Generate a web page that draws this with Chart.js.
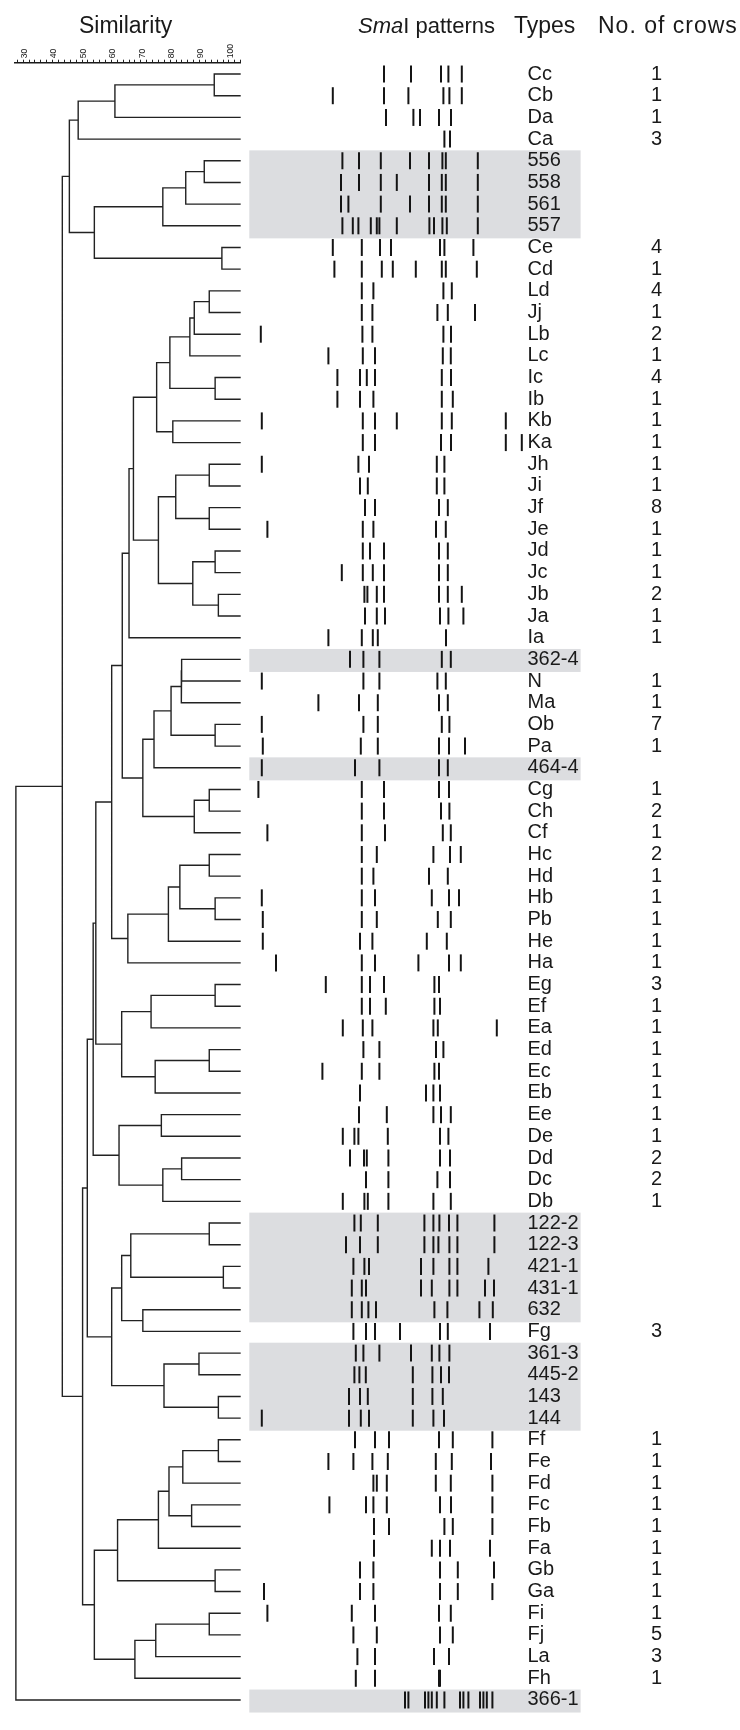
<!DOCTYPE html>
<html><head><meta charset="utf-8">
<script src="https://cdn.jsdelivr.net/npm/chart.js@4.4.1/dist/chart.umd.min.js"></script>
<style>
body{margin:0;background:#fff;}
#wrap{position:relative;width:740px;height:1730px;overflow:hidden;font-family:"Liberation Sans",Arial,Helvetica,sans-serif;color:#1a1a1a;background:#fff;}
canvas{position:absolute;top:0;}
.h{position:absolute;top:14px;font-size:23px;line-height:23px;white-space:nowrap;}
</style></head>
<body><div id="wrap">
<canvas id="dendro" width="250" height="1730" style="left:0"></canvas>
<canvas id="gel" width="495" height="1730" style="left:245px"></canvas>
<div class="h" style="left:79px">Similarity</div>
<div class="h" style="left:358px;font-size:22px"><i>Sma</i>I patterns</div>
<div class="h" style="left:514px">Types</div>
<div class="h" style="left:598px;letter-spacing:1px">No. of crows</div>
</div>
<script>
// ---------- DATA ----------
const types = ['Cc','Cb','Da','Ca','556','558','561','557','Ce','Cd','Ld','Jj','Lb','Lc','Ic','Ib','Kb','Ka','Jh','Ji','Jf','Je','Jd','Jc','Jb','Ja','Ia','362-4','N','Ma','Ob','Pa','464-4','Cg','Ch','Cf','Hc','Hd','Hb','Pb','He','Ha','Eg','Ef','Ea','Ed','Ec','Eb','Ee','De','Dd','Dc','Db','122-2','122-3','421-1','431-1','632','Fg','361-3','445-2','143','144','Ff','Fe','Fd','Fc','Fb','Fa','Gb','Ga','Fi','Fj','La','Fh','366-1'];

const crows = [1,1,1,3,null,null,null,null,4,1,
  4,1,2,1,4,1,1,1,
  1,1,8,1,1,1,2,1,1,
  null,1,1,7,1,null,
  1,2,1,2,1,1,1,1,1,
  3,1,1,1,1,1,1,1,2,2,1,
  null,null,null,null,null,3,null,null,null,null,
  1,1,1,1,1,1,1,1,1,5,3,1,null];

// Similarity axis tick labels
const simLabels = [30,40,50,60,70,80,90,100];
const simMinorStep = 2;

// UPGMA merges: [child A, child B, similarity %]; '#k' = result of merge k
const merges = [
  ['Cc','Cb',91.0], ['#0','Da',57.2], ['#1','Ca',44.7],
  ['556','558',87.6], ['#3','561',81.3], ['#4','557',73.5],
  ['Ce','Cd',93.6], ['#5','#6',50.2], ['#2','#7',41.7],
  ['Ld','Jj',89.3], ['#9','Lb',84.2], ['#10','Lc',82.7],
  ['Ic','Ib',91.3], ['#11','#12',75.9], ['Kb','Ka',76.9],
  ['#13','#14',71.4], ['Jh','Ji',89.3], ['Jf','Je',89.3],
  ['#16','#17',77.9], ['Jd','Jc',91.3], ['Jb','Ja',92.4],
  ['#19','#20',83.7], ['#18','#21',72.0], ['#15','#22',63.5],
  ['#23','Ia',62.0], ['362-4','N',79.9], ['#25','Ma',79.8],
  ['Ob','Pa',91.3], ['#26','#27',76.3], ['#28','464-4',70.5],
  ['Cg','Ch',89.3], ['#30','Cf',84.2], ['#29','#31',66.7],
  ['#24','#32',59.7], ['Hc','Hd',89.3], ['Hb','Pb',91.3],
  ['#34','#35',79.3], ['#36','He',75.4], ['#37','Ha',61.6],
  ['#33','#38',56.1], ['Eg','Ef',91.3], ['#40','Ea',69.5],
  ['Ed','Ec',89.3], ['#42','Eb',70.9], ['#41','#43',59.5],
  ['#39','#44',50.7], ['Ee','De',73.0], ['Dd','Dc',79.9],
  ['#47','Db',73.5], ['#46','#48',58.6], ['#45','#49',49.8],
  ['122-2','122-3',89.3], ['421-1','431-1',94.1], ['#51','#52',62.6],
  ['632','Fg',66.7], ['#53','#54',59.5], ['361-3','445-2',85.8],
  ['143','144',92.4], ['#56','#57',73.9], ['#55','#58',56.1],
  ['#50','#59',47.8], ['Ff','Fe',92.4], ['#61','Fd',80.3],
  ['Fc','Fb',83.3], ['#62','#63',75.6], ['#64','Fa',72.0],
  ['Gb','Ga',91.3], ['#65','#66',58.1], ['Fi','Fj',89.3],
  ['#68','La',71.1], ['#69','Fh',64.0], ['#67','#70',50.2],
  ['#60','#71',46.2], ['#8','#72',39.3], ['#73','366-1',23.5]
];

// SmaI band positions (relative migration units along lane), one list per type
const bands = [
  [67,80.5,95.5,99.2,105.9],
  [41.4,67,79.2,96.7,99.7,105.9],
  [68,81.7,85,94.5,100.5],
  [97.2,100],
  [46.2,54.5,65.4,80,89.5,96.2,97.9,113.9],
  [45.5,54.5,65.4,73.4,89.5,95.9,97.9,113.9],
  [45.5,49.2,65.4,80,89.5,95.9,97.9,113.9],
  [46.2,51.4,54.2,60.4,63.4,64.7,73.4,89.7,92,96.2,98.4,113.9],
  [41.4,55.9,65,70.5,95,97.2,111.7],
  [42.2,55.9,65.9,71.4,82.9,95.9,97.9,113.4],
  [55.9,61.7,96.7,100.9],
  [55.9,61.2,93.7,98.9,112.5],
  [5.4,56.2,61.2,96.7,100.5],
  [39.2,56.4,62.5,96.4,100.4],
  [43.7,55,58.4,62.5,95.9,100.5],
  [43.7,55,61.7,95.9,101.4],
  [5.9,56.4,62.5,73.4,95.9,100.9,127.9],
  [56.4,62.5,95.5,100.5,127.9,135.9],
  [5.9,54.2,59.5,93.4,97.2],
  [55,58.9,93.4,97.2],
  [57.5,62.5,94.5,98.9],
  [8.7,56.4,61.7,93,97.9],
  [56.4,60,67,94.5,98.9],
  [45.9,56.4,61.4,67,94.5,98.9],
  [57.2,58.7,63.4,67,94.5,98.9,105.9],
  [57.5,63.4,67.5,95,99.2,106.7],
  [39.2,55.9,61.4,63.9,98],
  [50,56.7,64.7,95.9,100.4],
  [5.9,56.7,64.7,93.7,97.9],
  [34.2,54.5,63.9,94.5,98.9],
  [5.9,56.7,63.9,95.9,99.7],
  [6.4,55.4,63.9,94.5,99.5,107.5],
  [5.9,52.5,64.7,94.5,98.9],
  [4.2,55.9,67,94.5,99.5],
  [55.9,67,95.5,99.7],
  [8.7,55.9,67.5,96.4,100.4],
  [55.9,63.4,91.7,100,105.4],
  [55.9,61.7,89.5,98.9],
  [5.9,55.9,62.5,90.9,99.5,104.5],
  [6.4,55.9,63.4,93.9,100.4],
  [6.4,55,61.2,88.4,98.4],
  [13,55.9,62.5,84.2,99.5,105.4],
  [37.9,55.9,60,67,92.2,94.5],
  [55.9,60,67.9,92.2,95],
  [46.4,56.4,61.2,91.7,93.9,123.4],
  [56.7,64.7,93,96.7],
  [36.2,55.9,64.7,92.2,94.5],
  [55,88,91.7,95],
  [54.5,68.4,91.7,95.5,100.4],
  [46.4,52.2,54.2,68.9,95,99.2],
  [50,57,58.4,69.2,95,100],
  [58,69.2,93.7,100],
  [46.4,57.2,58.9,69.2,91.7,100.4],
  [52.2,55.4,63.9,87.2,91.7,94.7,99.5,103.7,122.2],
  [48,55,63.9,87.2,91.7,94.2,99.7,103.7,122.2],
  [51.7,57.2,59.5,85.5,91.7,99.7,103.7,119.2],
  [50.9,55.9,58,85.5,90.9,99.7,103.7,117.5,122],
  [50.9,55.9,59.2,63,92.2,98.7,114.7,121.4],
  [51.7,58,62.5,75,95,98.9,120],
  [52.9,56.7,64.7,80.5,90.9,94.7,99.7],
  [52.2,54.7,57.9,81.4,91.2,95.5,99.5],
  [49.5,55,58.9,81.4,91.2,96.4],
  [5.9,49.5,55.4,59.5,81.4,91.7,97],
  [52.5,62.5,69.5,94.5,101.4,121.2],
  [39.2,51.7,61.2,68.9,92.9,100.9,120.5],
  [61.7,63.4,68.4,92.9,100.4,121.2],
  [39.7,58,61.7,68.4,95,100.5,121.2],
  [62,69.5,97.2,101.4,121.2],
  [62,90.9,95,100,120],
  [55,61.7,95,103.9,122],
  [7,55,61.7,95,103.9,121.2],
  [8.7,50.9,62.5,94.5,100.4],
  [51.7,63.4,95,101.4],
  [53.7,62.5,92,99.5],
  [52.9,62.5,94.5,95],
  [77.5,79.2,87.5,89.2,90.9,93.4,97.2,105,106.7,109.2,115,116.7,118.4,121.2]
];

// reference isolates shaded in grey: [first row, last row]
const highlightRows = [[4,7],[27,27],[32,32],[53,57],[59,62],[75,75]];

// ---------- BUILD ----------
const FONT = '"Liberation Sans", Arial, Helvetica, sans-serif';
Chart.defaults.font.family = FONT;
const rowMin = -0.5, rowMax = types.length - 0.5;

const pos = {};
types.forEach((t, i) => { pos[t] = {x: 100, y: i}; });
const dendroPath = [];
merges.forEach((m, k) => {
  const a = pos[m[0]], b = pos[m[1]], s = m[2];
  dendroPath.push({x: a.x, y: a.y}, {x: s, y: a.y}, {x: s, y: b.y}, {x: b.x, y: b.y}, {x: NaN, y: NaN});
  pos['#' + k] = {x: s, y: (a.y + b.y) / 2};
});

const simTicks = [];
for (let v = simLabels[0] - 3 * simMinorStep; v <= simLabels[simLabels.length - 1]; v += simMinorStep) simTicks.push(v);

new Chart(document.getElementById('dendro'), {
  type: 'scatter',
  data: {datasets: [{
    data: dendroPath, showLine: true, spanGaps: false, tension: 0,
    borderColor: '#222', borderWidth: 1.4, borderJoinStyle: 'miter', borderCapStyle: 'butt',
    pointRadius: 0, pointHoverRadius: 0, clip: false
  }]},
  options: {
    responsive: false, animation: false, devicePixelRatio: 1, events: [],
    layout: {autoPadding: false, padding: {left: 15, right: 9.3, top: 0, bottom: 19.2}},
    plugins: {legend: {display: false}, tooltip: {enabled: false}},
    scales: {
      x: {
        type: 'linear', position: 'top', min: 23.2, max: 100,
        afterBuildTicks: s => { s.ticks = simTicks.map(v => ({value: v})); },
        afterFit: s => { s.height = 63.2; },
        ticks: {autoSkip: false, minRotation: 90, maxRotation: 90, padding: 1.5, color: '#1a1a1a',
          font: {family: FONT, size: 8.6},
          callback: v => simLabels.includes(v) ? String(v) : ''},
        grid: {display: true, drawOnChartArea: false, drawTicks: true, tickLength: 3.5, tickColor: '#222', tickWidth: 1},
        border: {display: true, color: '#1a1a1a', width: 1.5}
      },
      y: {type: 'linear', display: false, reverse: true, min: rowMin, max: rowMax}
    }
  }
});

const bandPoints = [];
bands.forEach((row, i) => row.forEach(v => bandPoints.push({x: v, y: i})));

const highlightPlugin = {
  id: 'highlight',
  beforeDraw(chart) {
    const {ctx} = chart, x = chart.scales.x, y = chart.scales.y;
    ctx.save();
    ctx.fillStyle = '#dcdde0';
    const l = x.getPixelForValue(-0.35), r = x.getPixelForValue(165.3);
    highlightRows.forEach(([r0, r1]) => {
      const t = y.getPixelForValue(r0 - 0.48), b = y.getPixelForValue(r1 + 0.58);
      ctx.fillRect(l, t, r - l, b - t);
    });
    ctx.restore();
  }
};

const rowTicks = s => { s.ticks = types.map((_, i) => ({value: i})); };

new Chart(document.getElementById('gel'), {
  type: 'scatter',
  data: {datasets: [{
    data: bandPoints, pointStyle: 'line', pointRotation: 90, pointRadius: 8.5,
    pointHoverRadius: 8.5, pointBorderWidth: 2, pointBorderColor: '#141414', clip: false
  }]},
  options: {
    responsive: false, animation: false, devicePixelRatio: 1, events: [],
    layout: {autoPadding: false, padding: {left: 5, right: 0, top: 63.2, bottom: 19.2}},
    plugins: {legend: {display: false}, tooltip: {enabled: false}},
    scales: {
      x: {type: 'linear', display: false, min: 0, max: 137},
      y: {type: 'linear', display: false, reverse: true, min: rowMin, max: rowMax},
      yT: {
        type: 'linear', position: 'right', weight: 0, reverse: true, min: rowMin, max: rowMax,
        afterBuildTicks: rowTicks, afterFit: s => { s.width = 123; },
        ticks: {autoSkip: false, padding: 3.5, color: '#1a1a1a', font: {family: FONT, size: 20},
          callback: v => types[v]},
        grid: {display: false, drawTicks: false}, border: {display: false}
      },
      yC: {
        type: 'linear', position: 'right', weight: 1, reverse: true, min: rowMin, max: rowMax,
        afterBuildTicks: rowTicks, afterFit: s => { s.width = 93; },
        ticks: {autoSkip: false, padding: 4, color: '#1a1a1a', font: {family: FONT, size: 20},
          callback: v => crows[v] == null ? '' : String(crows[v])},
        grid: {display: false, drawTicks: false}, border: {display: false}
      }
    }
  },
  plugins: [highlightPlugin]
});
</script>
</body></html>
